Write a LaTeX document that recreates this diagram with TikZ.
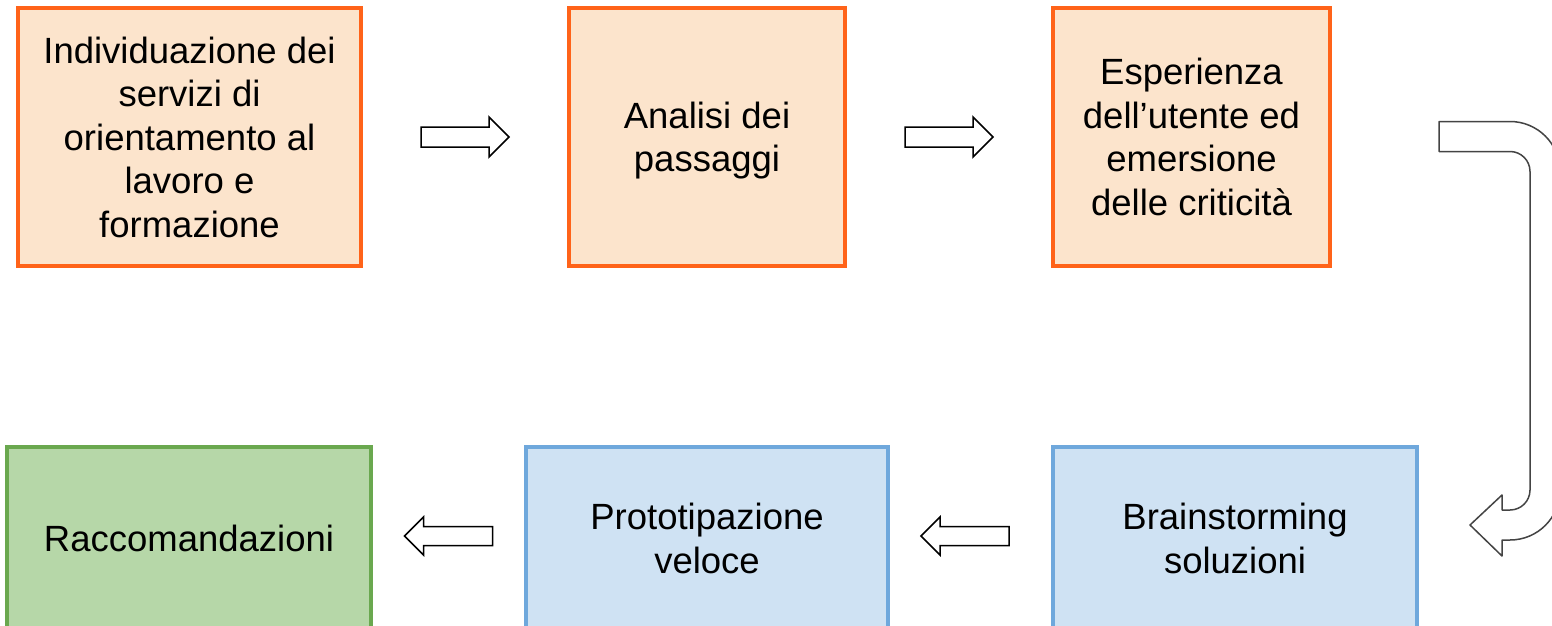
\documentclass[tikz,border=0pt]{standalone}
\usepackage{fontspec}
\setmainfont{Liberation Sans}
\usetikzlibrary{calc}
\definecolor{orbd}{HTML}{FF6319}
\definecolor{orfill}{HTML}{FCE4CC}
\definecolor{blbd}{HTML}{6FA8DC}
\definecolor{blfill}{HTML}{CFE2F3}
\definecolor{grbd}{HTML}{6AA84F}
\definecolor{grfill}{HTML}{B6D7A8}
\definecolor{ugray}{HTML}{444444}
\tikzset{
  box/.style={rectangle, inner sep=0pt, line width=4pt, align=center,
    font=\fontsize{36.5}{43.5}\selectfont, text=black},
  obox/.style={box, draw=orbd, fill=orfill},
  bbox/.style={box, draw=blbd, fill=blfill},
  gbox/.style={box, draw=grbd, fill=grfill},
  blockarrow/.style={draw=black, fill=white, line width=1.5pt, line join=miter},
  uarrow/.style={draw=ugray, fill=white, line width=1.5pt, line join=round},
  rarr/.pic={\draw[blockarrow] (-44,-10) -- (24,-10) -- (24,-20) -- (44,0) -- (24,20) -- (24,10) -- (-44,10) -- cycle;},
  larr/.pic={\draw[blockarrow] (44,-9.5) -- (-25,-9.5) -- (-25,-19) -- (-44,0) -- (-25,19) -- (-25,9.5) -- (44,9.5) -- cycle;}
}
\begin{document}
\begin{tikzpicture}[x=1pt,y=-1pt]
\useasboundingbox (0,0) rectangle (1552,626);
\clip (0,0) rectangle (1552,626);
\fill[white] (0,0) rectangle (1552,626);
% top row
\node[obox, minimum width=343pt, minimum height=258pt] (b1) at (189.5,137)
  {Individuazione dei\\servizi di\\orientamento al\\lavoro e\\formazione};
\node[obox, minimum width=276pt, minimum height=258pt, text depth=0pt] (b2) at (707,137)
  {Analisi dei\\passaggi};
\node[obox, minimum width=277pt, minimum height=258pt] (b3) at (1191.5,137)
  {Esperienza\\dell’utente ed\\emersione\\delle criticità};
% bottom row
\node[gbox, minimum width=364pt, minimum height=183pt] (c1) at (189,538.5)
  {Raccomandazioni};
\node[bbox, minimum width=362pt, minimum height=183pt] (c2) at (707,538.5)
  {Prototipazione\\veloce};
\node[bbox, minimum width=364pt, minimum height=183pt] (c3) at (1235,538.5)
  {Brainstorming\\soluzioni};
% arrows
\coordinate (a1) at ($(b1.east)!0.5!(b2.west)$);
\coordinate (a2) at ($(b2.east)!0.5!(b3.west)$);
\coordinate (a3) at ($(c1.east)!0.5!(c2.west)+(0,-2.5)$);
\coordinate (a4) at (965,536);
\pic at (a1) {rarr};
\pic at (a2) {rarr};
\pic at (a3) {larr};
\pic at (a4) {larr};
% U-turn arrow
\draw[uarrow] (1439,121.5) -- (1510,121.5)
  arc[start angle=-90, end angle=0, radius=50] -- (1560,490)
  arc[start angle=0, end angle=90, radius=50] -- (1502,540)
  -- (1502,556) -- (1470,525) -- (1502,495) -- (1502,510) -- (1510,510)
  arc[start angle=90, end angle=0, radius=20] -- (1530,171.5)
  arc[start angle=0, end angle=-90, radius=20] -- (1439,151.5) -- cycle;
\end{tikzpicture}
\end{document}
